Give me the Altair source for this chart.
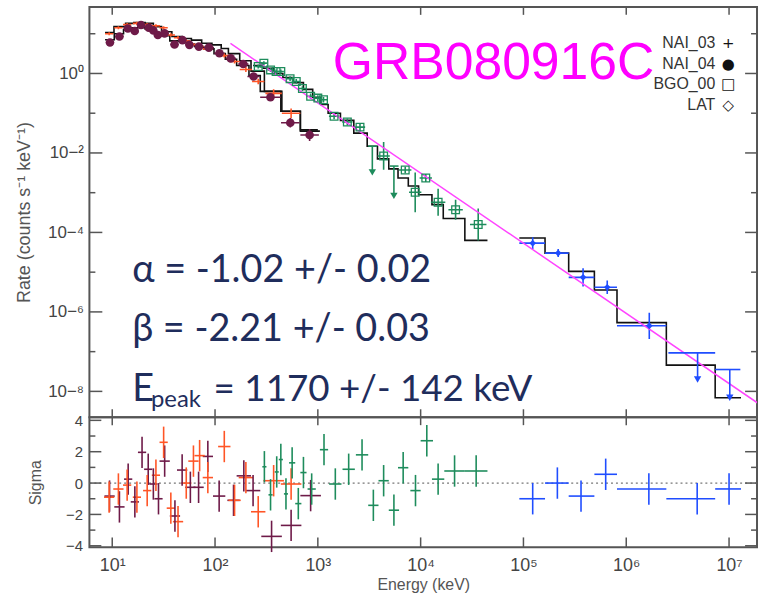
import altair as alt
import pandas as pd

# ---------------- axis ranges and ticks ----------------
x_domain_exp = [0.778, 7.272]        # log10(keV)
rate_domain_exp = [-8.65, 1.675]     # log10(counts s^-1 keV^-1)
sigma_domain = [-4.1, 4.2]
x_major_exp = [1, 2, 3, 4, 5, 6, 7]
rate_major_exp = [0, -2, -4, -6, -8]
rate_minor_exp = [1, -1, -3, -5, -7]
sigma_major = [-4, -2, 0, 2, 4]
sigma_minor = [-3, -1, 1, 3]

# ---------------- spectrum points (log10 E, log10 rate, half widths in dex) ----------------
nai04_logE = [0.978, 1.07, 1.152, 1.219, 1.28, 1.355, 1.40, 1.444, 1.509, 1.606, 1.683, 1.751,
              1.843, 1.94, 2.043, 2.153, 2.275, 2.375, 2.539, 2.732, 2.92]
nai04_logR = [0.78, 0.93, 1.13, 1.07, 1.22, 1.15, 1.08, 0.97, 1.01, 0.73, 0.84, 0.72,
              0.675, 0.65, 0.51, 0.38, 0.24, -0.075, -0.6, -1.24, -1.55]
nai04_dx = [0.04, 0.04, 0.04, 0.03, 0.03, 0.03, 0.03, 0.04, 0.04, 0.04, 0.04, 0.04,
            0.04, 0.05, 0.05, 0.05, 0.05, 0.06, 0.1, 0.09, 0.09]
nai04_dy = [0.03, 0.03, 0.03, 0.03, 0.03, 0.03, 0.03, 0.03, 0.03, 0.03, 0.03, 0.03,
            0.03, 0.03, 0.04, 0.04, 0.05, 0.06, 0.08, 0.12, 0.15]

nai03_logE = [0.97, 1.06, 1.145, 1.24, 1.34, 1.425, 1.5, 1.57, 1.64, 1.72, 1.79, 1.85,
              1.93, 2.09, 2.19, 2.30, 2.42, 2.57, 2.74]
nai03_logR = [1.0, 1.15, 1.23, 1.26, 1.23, 1.2, 1.15, 0.97, 0.9, 0.82, 0.73, 0.68,
              0.62, 0.45, 0.3, 0.1, -0.2, -0.5, -1.0]
nai03_dx = [0.04, 0.04, 0.04, 0.04, 0.04, 0.04, 0.04, 0.04, 0.04, 0.04, 0.04, 0.04,
            0.05, 0.05, 0.05, 0.06, 0.06, 0.08, 0.09]
nai03_dy = [0.04, 0.04, 0.04, 0.04, 0.04, 0.04, 0.04, 0.04, 0.04, 0.04, 0.04, 0.04,
            0.05, 0.05, 0.05, 0.06, 0.07, 0.1, 0.12]

bgo_logE = [2.42, 2.475, 2.54, 2.594, 2.64, 2.73, 2.79, 2.85, 2.93, 3.0, 3.055, 3.158,
            3.287, 3.41, 3.64, 3.85, 3.947, 4.05, 4.17, 4.34, 4.56]
bgo_logR = [0.175, 0.26, 0.09, 0.05, 0.05, -0.13, -0.2, -0.38, -0.575, -0.62, -0.66, -1.075,
            -1.22, -1.35, -2.075, -2.43, -2.99, -2.63, -3.24, -3.43, -3.8]
bgo_dx = [0.03, 0.03, 0.03, 0.03, 0.03, 0.04, 0.04, 0.04, 0.04, 0.04, 0.04, 0.05,
          0.05, 0.05, 0.06, 0.06, 0.06, 0.06, 0.07, 0.07, 0.08]
bgo_dy = [0.05, 0.05, 0.05, 0.05, 0.05, 0.06, 0.06, 0.06, 0.07, 0.07, 0.07, 0.08,
          0.09, 0.1, 0.35, 0.08, 0.5, 0.1, 0.34, 0.25, 0.4]

lat_logE = [5.09, 5.338, 5.58, 5.815, 6.224]
lat_logR = [-4.27, -4.52, -5.13, -5.38, -6.35]
lat_lo = [4.96, 5.21, 5.44, 5.69, 5.91]
lat_hi = [5.21, 5.44, 5.69, 5.91, 6.39]
lat_dy = [0.15, 0.1, 0.23, 0.17, 0.33]

# upper limits (log10 E, bin edges, top of bar, arrow tip)
ul_det = ["BGO_00", "BGO_00", "LAT", "LAT"]
ul_logE = [3.53, 3.74, 6.694, 7.007]
ul_lo = [3.49, 3.70, 6.41, 6.865]
ul_hi = [3.575, 3.785, 6.865, 7.11]
ul_top = [-1.83, -2.33, -7.03, -7.45]
ul_tip = [-2.49, -3.08, -7.7, -8.16]

# ---------------- folded model steps (bin edges, values; log10) ----------------
m_nai03_edges = [0.93, 1.017, 1.13, 1.21, 1.32, 1.40, 1.48, 1.58, 1.68, 1.77, 1.87, 1.97,
                 2.06, 2.13, 2.24, 2.35, 2.48, 2.65, 2.83, 3.0]
m_nai03_vals = [1.03, 1.18, 1.26, 1.28, 1.26, 1.18, 1.05, 0.93, 0.88, 0.84, 0.76, 0.72,
                0.63, 0.5, 0.32, 0.06, -0.45, -0.95, -1.42]
m_nai04_edges = [0.93, 1.02, 1.11, 1.19, 1.25, 1.32, 1.40, 1.48, 1.56, 1.65, 1.72, 1.80,
                 1.89, 1.99, 2.10, 2.21, 2.33, 2.44, 2.64, 2.83, 3.02]
m_nai04_vals = [0.85, 1.0, 1.1, 1.15, 1.15, 1.12, 1.02, 0.95, 0.82, 0.8, 0.74, 0.68,
                0.62, 0.5, 0.36, 0.2, -0.05, -0.45, -0.95, -1.45]
m_bgo_edges = [2.37, 2.47, 2.57, 2.66, 2.76, 2.86, 2.95, 3.03, 3.10, 3.22, 3.35, 3.48,
               3.58, 3.69, 3.78, 3.88, 3.98, 4.11, 4.22, 4.43, 4.65]
m_bgo_vals = [0.2, 0.13, 0.0, -0.1, -0.23, -0.4, -0.6, -0.78, -1.0, -1.18, -1.5, -1.83,
              -2.15, -2.4, -2.63, -2.83, -3.05, -3.3, -3.65, -4.2]
m_lat_edges = [4.96, 5.21, 5.44, 5.69, 5.91, 6.39, 6.865, 7.116]
m_lat_vals = [-4.14, -4.52, -4.98, -5.45, -6.27, -7.34, -8.16]

# power law (log10 E, log10 rate)
pl_logE = [2.15, 7.35]
pl_logR = [0.7575, -8.42]

# ---------------- residuals (log10 E, sigma, half bin width in dex) ----------------
r_nai04_logE = [0.974, 1.07, 1.155, 1.22, 1.29, 1.35, 1.40, 1.45, 1.51, 1.61, 1.68, 1.76,
                1.84, 1.93, 2.04, 2.18, 2.28, 2.37, 2.55, 2.74, 2.93]
r_nai04_sig = [-0.83, -1.52, 0.25, -1.2, 1.96, 0.88, -0.06, -1.0, 1.4, -2.1, 0.83, -0.27,
               -0.27, 1.7, -0.83, -1.1, 0.46, -0.48, -3.4, -2.7, -0.8]
r_nai04_dx = [0.05, 0.05, 0.04, 0.04, 0.04, 0.04, 0.04, 0.04, 0.05, 0.05, 0.05, 0.05,
              0.05, 0.05, 0.06, 0.06, 0.07, 0.07, 0.1, 0.1, 0.1]
r_nai03_logE = [0.97, 1.06, 1.145, 1.24, 1.34, 1.425, 1.5, 1.57, 1.64, 1.72, 1.79, 1.85,
                1.93, 2.09, 2.19, 2.30, 2.42, 2.57, 2.74]
r_nai03_sig = [-0.9, -0.38, -0.13, -0.9, -0.48, 0.5, 2.6, -1.6, -2.46, 0.0, 1.4, 1.75,
               0.35, 2.33, -1.1, 0.35, -1.83, 0.15, -0.06]
r_nai03_dx = [0.05, 0.05, 0.04, 0.04, 0.04, 0.04, 0.04, 0.04, 0.05, 0.05, 0.05, 0.05,
              0.05, 0.06, 0.06, 0.07, 0.07, 0.1, 0.1]
r_bgo_logE = [2.48, 2.54, 2.60, 2.64, 2.69, 2.75, 2.81, 2.86, 2.94, 3.06, 3.17, 3.30,
              3.43, 3.54, 3.64, 3.74, 3.83, 3.95, 4.06, 4.17, 4.33, 4.54]
r_bgo_sig = [1.04, -0.75, 0.71, 1.5, -0.69, 1.29, -1.31, 0.67, -0.38, 2.13, -0.06, 0.88,
             1.8, -1.42, 0.15, -1.73, 0.98, -0.48, 2.7, 0.25, 0.77, 0.77]
r_bgo_dx = [0.02, 0.02, 0.02, 0.02, 0.02, 0.03, 0.03, 0.03, 0.04, 0.04, 0.06, 0.06,
            0.06, 0.05, 0.05, 0.05, 0.05, 0.05, 0.06, 0.06, 0.1, 0.11]
r_lat_logE = [5.09, 5.33, 5.56, 5.8, 6.22, 6.69, 7.0]
r_lat_sig = [-1.0, 0.0, -0.83, 0.56, -0.375, -1.0, -0.375]
r_lat_lo = [4.96, 5.21, 5.44, 5.69, 5.91, 6.39, 6.865]
r_lat_hi = [5.21, 5.44, 5.69, 5.91, 6.39, 6.865, 7.116]

# ---------------- text ----------------
legend_labels = ["NAI_03", "NAI_04", "BGO_00", "LAT"]
legend_symbols = ["+", "●", "□", "◇"]
title_text = "GRB080916C"
param_lines = ["α = -1.02 +/- 0.02", "β = -2.21 +/- 0.03"]
epeak_parts = ["E", "peak", "= 1170 +/- 142 keV"]

dets = ["NAI_03", "NAI_04", "BGO_00", "LAT"]
det_colors = ["#ff5526", "#6e1a48", "#1e8c5c", "#1f4dff"]
color = alt.Color("det:N", scale=alt.Scale(domain=dets, range=det_colors), legend=None)

# ---------------- build tables ----------------
p = lambda v: 10 ** v


def points(logE, logR, dx, dy, det):
    return pd.DataFrame({
        "E": [p(a) for a in logE], "R": [p(b) for b in logR],
        "Elo": [p(a - d) for a, d in zip(logE, dx)], "Ehi": [p(a + d) for a, d in zip(logE, dx)],
        "Rlo": [p(b - d) for b, d in zip(logR, dy)], "Rhi": [p(b + d) for b, d in zip(logR, dy)],
        "det": det})


lat_df = pd.DataFrame({
    "E": [p(a) for a in lat_logE], "R": [p(b) for b in lat_logR],
    "Elo": [p(a) for a in lat_lo], "Ehi": [p(a) for a in lat_hi],
    "Rlo": [p(b - d) for b, d in zip(lat_logR, lat_dy)],
    "Rhi": [p(b + d) for b, d in zip(lat_logR, lat_dy)], "det": "LAT"})

spec_df = pd.concat([
    points(nai03_logE, nai03_logR, nai03_dx, nai03_dy, "NAI_03"),
    points(nai04_logE, nai04_logR, nai04_dx, nai04_dy, "NAI_04"),
    points(bgo_logE, bgo_logR, bgo_dx, bgo_dy, "BGO_00"),
    lat_df], ignore_index=True)

ul_df = pd.DataFrame({
    "E": [p(a) for a in ul_logE], "Elo": [p(a) for a in ul_lo], "Ehi": [p(a) for a in ul_hi],
    "Rtop": [p(a) for a in ul_top], "Rtip": [p(a) for a in ul_tip], "det": ul_det})


def steps(edges, vals, name):
    xs = list(edges)
    ys = list(vals) + [vals[-1]]
    return pd.DataFrame({"E": [p(a) for a in xs], "R": [p(b) for b in ys], "m": name})


model_df = pd.concat([
    steps(m_nai03_edges, m_nai03_vals, "n3"), steps(m_nai04_edges, m_nai04_vals, "n4"),
    steps(m_bgo_edges, m_bgo_vals, "bgo"), steps(m_lat_edges, m_lat_vals, "lat")],
    ignore_index=True)

pl_df = pd.DataFrame({"E": [p(a) for a in pl_logE], "R": [p(b) for b in pl_logR]})


def resid(logE, sig, det, dx=None, lo=None, hi=None):
    if dx is not None:
        lo = [a - d for a, d in zip(logE, dx)]
        hi = [a + d for a, d in zip(logE, dx)]
    return pd.DataFrame({
        "E": [p(a) for a in logE], "Elo": [p(a) for a in lo], "Ehi": [p(a) for a in hi],
        "s": sig, "slo": [v - 1 for v in sig], "shi": [v + 1 for v in sig], "det": det})


res_df = pd.concat([
    resid(r_nai04_logE, r_nai04_sig, "NAI_04", dx=r_nai04_dx),
    resid(r_nai03_logE, r_nai03_sig, "NAI_03", dx=r_nai03_dx),
    resid(r_bgo_logE, r_bgo_sig, "BGO_00", dx=r_bgo_dx),
    resid(r_lat_logE, r_lat_sig, "LAT", lo=r_lat_lo, hi=r_lat_hi)], ignore_index=True)

# ---------------- scales and axes ----------------
W, H1, H2 = 672, 413, 131
FONT = "Liberation Sans"
GRAY = "#555555"
SUP = {"-": "⁻", "0": "⁰", "1": "¹", "2": "²", "3": "³", "4": "⁴",
       "5": "⁵", "6": "⁶", "7": "⁷", "8": "⁸", "9": "⁹"}


def pow_expr():
    e = "format(round(log(datum.value)/LN10), 'd')"
    for k, v in SUP.items():
        e = f"replace({e}, '{k}', '{v}')"
    return "'10' + " + e


x_scale = alt.Scale(type="log", domain=[p(x_domain_exp[0]), p(x_domain_exp[1])], nice=False)
r_scale = alt.Scale(type="log", domain=[p(rate_domain_exp[0]), p(rate_domain_exp[1])], nice=False)
s_scale = alt.Scale(domain=sigma_domain, nice=False, zero=False)

y_axis_top = alt.Axis(values=[p(e) for e in rate_major_exp], labelExpr=pow_expr(), ticks=False,
                      domain=False, grid=False, labelFont=FONT, labelFontSize=17, labelColor="#444",
                      labelPadding=6, title="Rate (counts s⁻¹ keV⁻¹)", titleFont=FONT,
                      titleFontSize=18, titleFontWeight="normal", titleColor="#555",
                      titlePadding=14)
x_axis_bot = alt.Axis(values=[p(e) for e in x_major_exp], labelExpr=pow_expr(), ticks=False,
                      domain=False, grid=False, labelFont=FONT, labelFontSize=18, labelColor="#444",
                      labelPadding=9, title="Energy (keV)", titleFont=FONT, titleFontSize=16,
                      titleFontWeight="normal", titleColor="#555", titlePadding=2)
y_axis_bot = alt.Axis(values=sigma_major, format="d", ticks=False, domain=False, grid=False,
                      labelFont=FONT, labelFontSize=15, labelColor="#444", labelPadding=7,
                      title="Sigma", titleFont=FONT, titleFontSize=16, titleFontWeight="normal",
                      titleColor="#555", titlePadding=22)


def XT(f):
    return alt.X(f, type="quantitative", scale=x_scale, axis=None)


def YT(f):
    return alt.Y(f, type="quantitative", scale=r_scale, axis=y_axis_top)


def XB(f):
    return alt.X(f, type="quantitative", scale=x_scale, axis=x_axis_bot)


def YB(f):
    return alt.Y(f, type="quantitative", scale=s_scale, axis=y_axis_bot)


# ---------------- top panel ----------------
base_s = alt.Chart(spec_df)
models = alt.Chart(model_df).mark_line(interpolate="step-after", color="#111111",
                                       strokeWidth=1.6, clip=True).encode(
    x=XT("E"), y=YT("R"), detail="m:N")
plaw = alt.Chart(pl_df).mark_line(color="#ff44ff", strokeWidth=1.5, clip=True).encode(
    x=XT("E"), y=YT("R"))
hbar = base_s.mark_rule(strokeWidth=1.6, clip=True).encode(
    x=XT("Elo"), x2="Ehi", y=YT("R"), color=color)
vbar = base_s.mark_rule(strokeWidth=1.6, clip=True).encode(
    x=XT("E"), y=YT("Rlo"), y2="Rhi", color=color)
circ = alt.Chart(spec_df[spec_df.det == "NAI_04"]).mark_point(
    shape="circle", filled=True, size=75, opacity=1, color="#6e1a48").encode(
    x=XT("E"), y=YT("R"))
sq = alt.Chart(spec_df[spec_df.det == "BGO_00"]).mark_point(
    shape="square", filled=False, size=60, strokeWidth=1.3, opacity=1, color="#1e8c5c").encode(
    x=XT("E"), y=YT("R"))
dia = alt.Chart(spec_df[spec_df.det == "LAT"]).mark_point(
    shape="diamond", filled=True, size=45, opacity=1, color="#1f4dff").encode(
    x=XT("E"), y=YT("R"))
base_ul = alt.Chart(ul_df)
ul_h = base_ul.mark_rule(strokeWidth=1.6).encode(x=XT("Elo"), x2="Ehi", y=YT("Rtop"), color=color)
ul_v = base_ul.mark_rule(strokeWidth=1.6).encode(x=XT("E"), y=YT("Rtop"), y2="Rtip", color=color)
ul_a = base_ul.mark_point(shape="triangle-down", filled=True, size=55, opacity=1).encode(
    x=XT("E"), y=YT("Rtip"), color=color)

tick_style = dict(color=GRAY, strokeWidth=1.5)
xt_df = pd.DataFrame({"E": [p(e) for e in x_major_exp]})
ymaj_df = pd.DataFrame({"R": [p(e) for e in rate_major_exp]})
ymin_df = pd.DataFrame({"R": [p(e) for e in rate_minor_exp]})
top_ticks = [
    alt.Chart(xt_df).mark_rule(**tick_style).encode(x=XT("E"), y=alt.value(0), y2=alt.value(8)),
    alt.Chart(xt_df).mark_rule(**tick_style).encode(x=XT("E"), y=alt.value(H1 - 8), y2=alt.value(H1)),
    alt.Chart(ymaj_df).mark_rule(**tick_style).encode(y=YT("R"), x=alt.value(0), x2=alt.value(13)),
    alt.Chart(ymin_df).mark_rule(**tick_style).encode(y=YT("R"), x=alt.value(0), x2=alt.value(6)),
    alt.Chart(ymaj_df).mark_rule(**tick_style).encode(y=YT("R"), x=alt.value(W - 12), x2=alt.value(W)),
    alt.Chart(ymin_df).mark_rule(**tick_style).encode(y=YT("R"), x=alt.value(W - 6), x2=alt.value(W)),
]

one = pd.DataFrame({"a": [0]})
NAVY = "#1f2d5c"
texts = [
    alt.Chart(one).mark_text(text=title_text, font=FONT, fontSize=52, color="#ff00ff",
                             align="left", baseline="alphabetic").encode(
        x=alt.value(245), y=alt.value(73)),
    alt.Chart(one).mark_text(text="\n".join(legend_labels), lineBreak="\n", lineHeight=21,
                             font=FONT, fontSize=16, color="#333333", align="right",
                             baseline="alphabetic").encode(x=alt.value(630), y=alt.value(41)),
    alt.Chart(one).mark_text(text="\n".join(legend_symbols), lineBreak="\n", lineHeight=21,
                             font="DejaVu Sans", fontSize=15, color="#111111", align="center",
                             baseline="alphabetic").encode(x=alt.value(643), y=alt.value(41)),
    alt.Chart(one).mark_text(text=param_lines[0], font="Lato", fontSize=38, color=NAVY,
                             align="left", baseline="alphabetic").encode(
        x=alt.value(43), y=alt.value(277)),
    alt.Chart(one).mark_text(text=param_lines[1], font="Lato", fontSize=38, color=NAVY,
                             align="left", baseline="alphabetic").encode(
        x=alt.value(43), y=alt.value(336)),
    alt.Chart(one).mark_text(text=epeak_parts[0], font="Lato", fontSize=38, color=NAVY,
                             align="left", baseline="alphabetic").encode(
        x=alt.value(43), y=alt.value(397)),
    alt.Chart(one).mark_text(text=epeak_parts[1], font="Lato", fontSize=24, color=NAVY,
                             align="left", baseline="alphabetic").encode(
        x=alt.value(62), y=alt.value(403)),
    alt.Chart(one).mark_text(text=epeak_parts[2], font="Lato", fontSize=37, color=NAVY,
                             align="left", baseline="alphabetic").encode(
        x=alt.value(125), y=alt.value(397)),
]

top = alt.layer(models, hbar, vbar, plaw, circ, sq, dia, ul_h, ul_v, ul_a,
                *top_ticks, *texts).properties(width=W, height=H1)

# ---------------- residual panel ----------------
zero = alt.Chart(pd.DataFrame({"s": [0]})).mark_rule(
    color="#777777", strokeDash=[2, 3], strokeWidth=1.3).encode(y=YB("s"))
base_r = alt.Chart(res_df)
r_h = base_r.mark_rule(strokeWidth=1.6).encode(x=XB("Elo"), x2="Ehi", y=YB("s"), color=color)
r_v = base_r.mark_rule(strokeWidth=1.6).encode(x=XB("E"), y=YB("slo"), y2="shi", color=color)
smaj_df = pd.DataFrame({"s": sigma_major})
smin_df = pd.DataFrame({"s": sigma_minor})
bot_ticks = [
    alt.Chart(xt_df).mark_rule(**tick_style).encode(x=XB("E"), y=alt.value(0), y2=alt.value(8)),
    alt.Chart(xt_df).mark_rule(**tick_style).encode(x=XB("E"), y=alt.value(H2 - 10), y2=alt.value(H2)),
    alt.Chart(smaj_df).mark_rule(**tick_style).encode(y=YB("s"), x=alt.value(0), x2=alt.value(12)),
    alt.Chart(smin_df).mark_rule(**tick_style).encode(y=YB("s"), x=alt.value(0), x2=alt.value(6)),
    alt.Chart(smaj_df).mark_rule(**tick_style).encode(y=YB("s"), x=alt.value(W - 12), x2=alt.value(W)),
    alt.Chart(smin_df).mark_rule(**tick_style).encode(y=YB("s"), x=alt.value(W - 6), x2=alt.value(W)),
]
bottom = alt.layer(zero, r_h, r_v, *bot_ticks).properties(width=W, height=H2)

chart = alt.vconcat(top, bottom, spacing=0, bounds="flush").properties(
    padding={"left": 14, "top": 3, "right": 0, "bottom": 0},
    background="white",
).configure_view(stroke="#555555", strokeWidth=2)

chart.save("out.html", embed_options={"renderer": "svg", "actions": False})
